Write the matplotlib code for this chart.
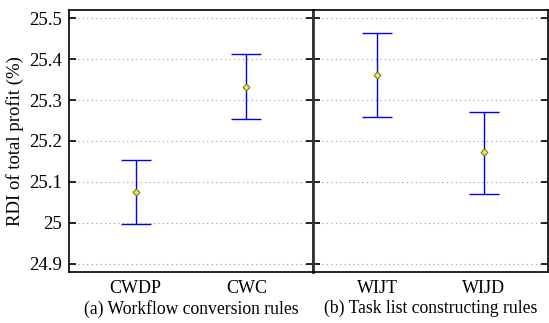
import matplotlib.pyplot as plt

plt.rcParams['font.family'] = ['Liberation Serif', 'DejaVu Serif']
plt.rcParams['font.size'] = 10

# data
left_cats = ['CWDP', 'CWC']
left_mean = [25.076, 25.332]
left_low = [24.998, 25.254]
left_high = [25.154, 25.412]

right_cats = ['WIJT', 'WIJD']
right_mean = [25.362, 25.172]
right_low = [25.259, 25.070]
right_high = [25.465, 25.272]

yticks = [24.9, 25.0, 25.1, 25.2, 25.3, 25.4, 25.5]
ytick_labels = ['24.9', '25', '25.1', '25.2', '25.3', '25.4', '25.5']

fig = plt.figure(figsize=(5.49, 3.23), dpi=100)
ax1 = fig.add_axes([0.1257, 0.158, 0.4444, 0.811])
ax2 = fig.add_axes([0.5701, 0.158, 0.428, 0.811])


def draw(ax, cats, mean, low, high, xlabel):
    x = list(range(1, len(cats) + 1))
    err = [[m - l for m, l in zip(mean, low)], [h - m for m, h in zip(mean, high)]]
    ax.errorbar(x, mean, yerr=err, fmt='none', ecolor='#0000ee', elinewidth=1,
                capsize=11, capthick=1, zorder=3)
    ax.plot(x, mean, 'D', ms=3.5, mfc='#e6e680', mec='#808000', mew=0.8, zorder=4)
    ax.set_xlim(0.4, 2.6)
    ax.set_ylim(24.88, 25.52)
    ax.set_xticks(x)
    ax.set_xticklabels(cats, fontsize=13)
    ax.set_yticks(yticks)
    ax.grid(axis='y', linestyle=(0, (1, 3)), color='#999999', linewidth=0.8)
    ax.set_xlabel(xlabel, fontsize=12.7, labelpad=2)
    ax.tick_params(axis='x', length=0, pad=6)
    for s in ax.spines.values():
        s.set_linewidth(1.2)


draw(ax1, left_cats, left_mean, left_low, left_high, '(a) Workflow conversion rules')
draw(ax2, right_cats, right_mean, right_low, right_high, '(b) Task list constructing rules')

ax1.set_yticklabels(ytick_labels, fontsize=13.5)
ax1.set_ylabel('RDI of total profit (%)', fontsize=13.5, labelpad=4)
ax1.tick_params(axis='y', direction='in', left=True, right=True, length=5, width=1.2, pad=5)
ax2.tick_params(axis='y', direction='in', left=True, right=True, labelleft=False, length=5, width=1.2)
ax1.spines['right'].set_color('#333333')
ax2.spines['left'].set_color('#333333')
ax2.spines['left'].set_linewidth(2)

fig.savefig('out.png', dpi=100)
